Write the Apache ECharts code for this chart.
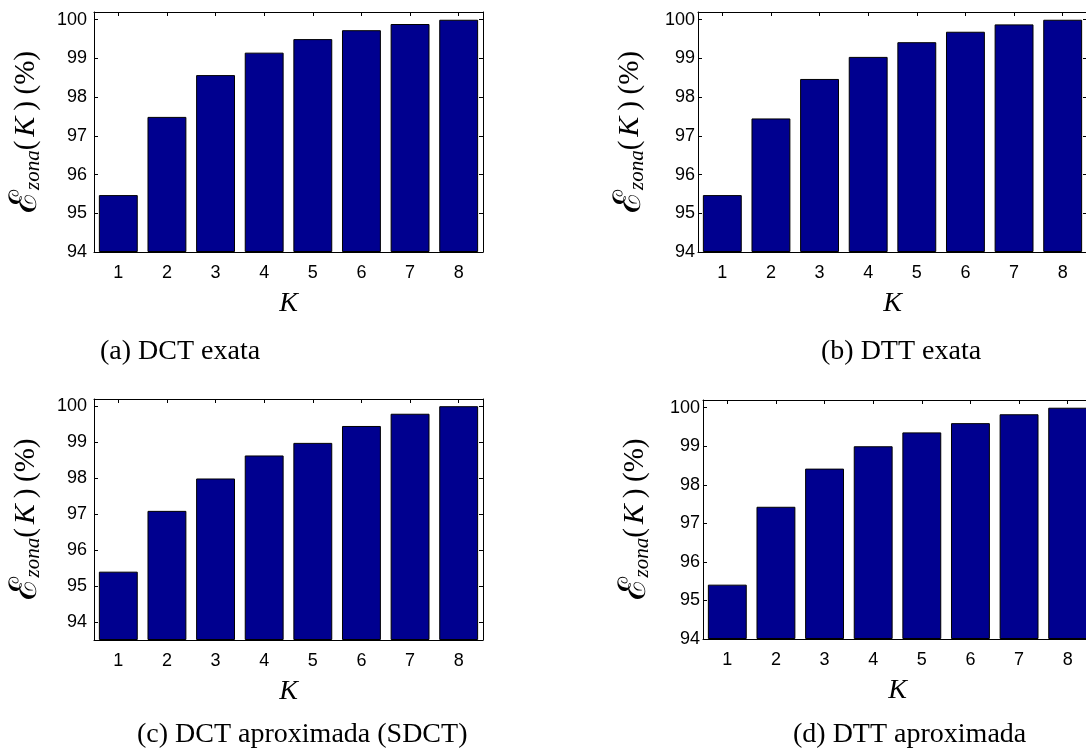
<!DOCTYPE html>
<html>
<head>
<meta charset="utf-8">
<script src="https://cdn.jsdelivr.net/npm/echarts@6/dist/echarts.min.js"></script>
<style>
  html, body { margin: 0; padding: 0; background: #ffffff; }
  #chart { width: 1086px; height: 753px; }
</style>
</head>
<body>
<div id="chart"></div>
<script>
// Energy retained in the zonal mask vs. number of kept coefficients K
const categories = ['1', '2', '3', '4', '5', '6', '7', '8'];
const dctExata = [95.47, 97.49, 98.57, 99.15, 99.50, 99.73, 99.89, 100.00];
const dttExata = [95.47, 97.45, 98.47, 99.04, 99.42, 99.69, 99.88, 100.00];
const dctAproximada = [95.40, 97.09, 97.99, 98.63, 98.98, 99.45, 99.79, 100.00];
const dttAproximada = [95.41, 97.43, 98.42, 99.00, 99.36, 99.60, 99.83, 100.00];
const yTicks = [94, 95, 96, 97, 98, 99, 100];
const captions = ['(a) DCT exata', '(b) DTT exata', '(c) DCT aproximada (SDCT)', '(d) DTT aproximada'];

const BAR_COLOR = '#00008f';
const SANS = '"Liberation Sans", Arial, sans-serif';
const SERIF = '"Liberation Serif", "Times New Roman", serif';

// grid geometry and axis range for each subplot
const panels = [
  { data: dctExata,      left: 94,  top: 12,  width: 389, height: 240, min: 94,   max: 100.2, margin: 7, caption: [100, 352] },
  { data: dttExata,      left: 698, top: 12,  width: 389, height: 240, min: 94,   max: 100.2, margin: 3, caption: [821, 352] },
  { data: dctAproximada, left: 94,  top: 399, width: 389, height: 241, min: 93.5, max: 100.2, margin: 7, caption: [137, 735] },
  { data: dttAproximada, left: 703, top: 400, width: 389, height: 239, min: 94,   max: 100.2, margin: 3, caption: [793, 735] }
];

const yName = '{e|ℰ}{s|zona}{p|(}{k|K}{p|)}{sp| }{p|(%)}';
const yNameRich = {
  e:  { fontFamily: '"DejaVu Serif", serif', fontSize: 38, lineHeight: 36, verticalAlign: 'middle', color: '#000' },
  s:  { fontFamily: SERIF, fontStyle: 'italic', fontSize: 21, lineHeight: 19, verticalAlign: 'bottom', color: '#000' },
  p:  { fontFamily: SERIF, fontSize: 29, lineHeight: 36, verticalAlign: 'middle', color: '#000' },
  k:  { fontFamily: SERIF, fontStyle: 'italic', fontSize: 30, lineHeight: 36, verticalAlign: 'middle', color: '#000', padding: [0, 6, 0, 4] },
  sp: { fontFamily: SERIF, fontSize: 26, lineHeight: 36, verticalAlign: 'middle' }
};

const axisLine = { show: true, onZero: false, lineStyle: { color: '#000', width: 1 } };

const grid = [], xAxis = [], yAxis = [], series = [], graphic = [];

panels.forEach((p, i) => {
  grid.push({ left: p.left, top: p.top, width: p.width, height: p.height, containLabel: false, outerBoundsMode: 'none' });

  // bottom category axis
  xAxis.push({
    type: 'category', gridIndex: i, position: 'bottom', data: categories,
    boundaryGap: true,
    axisLine: axisLine,
    axisTick: { show: true, inside: true, alignWithLabel: true, length: 4, lineStyle: { color: '#000' } },
    axisLabel: { show: true, interval: 0, margin: 12, fontFamily: SANS, fontSize: 18, color: '#000' },
    splitLine: { show: false },
    name: 'K', nameLocation: 'middle', nameGap: 38,
    nameTextStyle: { fontFamily: SERIF, fontStyle: 'italic', fontSize: 28, color: '#000' }
  });
  // top box edge with inward ticks
  xAxis.push({
    type: 'category', gridIndex: i, position: 'top', data: categories,
    boundaryGap: true,
    axisLine: axisLine,
    axisTick: { show: true, inside: true, alignWithLabel: true, length: 4, lineStyle: { color: '#000' } },
    axisLabel: { show: false },
    splitLine: { show: false }
  });
  // left value axis
  yAxis.push({
    type: 'value', gridIndex: i, position: 'left', min: p.min, max: p.max, startValue: p.min,
    axisLine: axisLine,
    axisTick: { show: true, inside: true, length: 4, customValues: yTicks, lineStyle: { color: '#000' } },
    axisLabel: { show: true, margin: p.margin, customValues: yTicks, fontFamily: SANS, fontSize: 18, color: '#000' },
    splitLine: { show: false },
    name: yName, nameLocation: 'middle', nameRotate: 90, nameGap: 50,
    nameTextStyle: { rich: yNameRich }
  });
  // right box edge with inward ticks
  yAxis.push({
    type: 'value', gridIndex: i, position: 'right', min: p.min, max: p.max,
    axisLine: axisLine,
    axisTick: { show: true, inside: true, length: 4, customValues: yTicks, lineStyle: { color: '#000' } },
    axisLabel: { show: false },
    splitLine: { show: false }
  });

  series.push({
    type: 'bar', xAxisIndex: 2 * i, yAxisIndex: 2 * i, data: p.data,
    barCategoryGap: '20%', clip: true,
    itemStyle: { color: BAR_COLOR, borderColor: '#000', borderWidth: 1 },
    emphasis: { disabled: true },
    animation: false
  });

  graphic.push({
    type: 'text',
    style: {
      text: captions[i], x: p.caption[0], y: p.caption[1],
      fontFamily: SERIF, fontSize: 28, fill: '#000',
      textAlign: 'left', textVerticalAlign: 'middle'
    }
  });
});

const chart = echarts.init(document.getElementById('chart'), null, { renderer: 'canvas' });
chart.setOption({
  animation: false,
  backgroundColor: '#ffffff',
  grid, xAxis, yAxis, series, graphic
});
</script>
</body>
</html>
